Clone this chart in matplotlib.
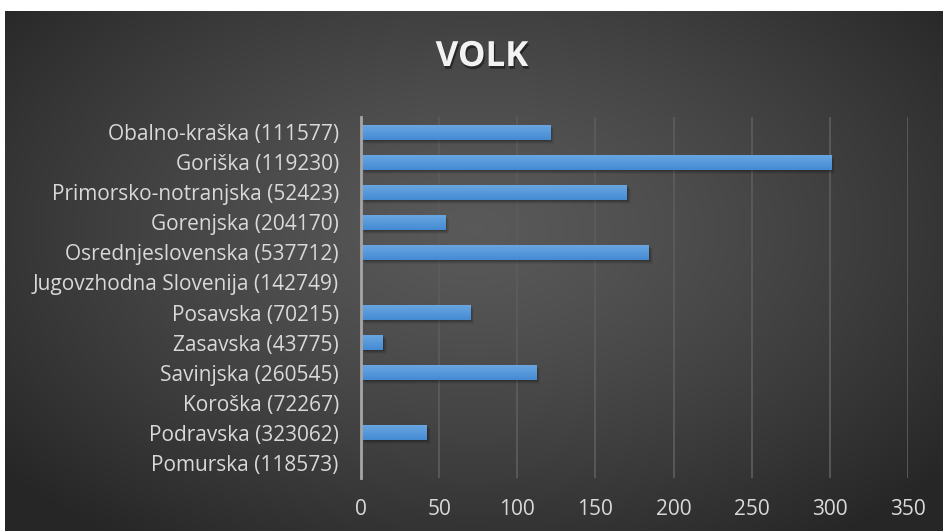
import numpy as np
import matplotlib
matplotlib.use("Agg")
import matplotlib.pyplot as plt
import matplotlib.patheffects as pe
import matplotlib.transforms as mtransforms

plt.rcParams['font.family'] = ['Open Sans', 'DejaVu Sans']

# Regions with population in brackets, top to bottom
regions = [
    "Obalno-kraška (111577)",
    "Goriška (119230)",
    "Primorsko-notranjska (52423)",
    "Gorenjska (204170)",
    "Osrednjeslovenska (537712)",
    "Jugovzhodna Slovenija (142749)",
    "Posavska (70215)",
    "Zasavska (43775)",
    "Savinjska (260545)",
    "Koroška (72267)",
    "Podravska (323062)",
    "Pomurska (118573)",
]
counts = [121, 301, 170, 54, 184, 0, 70, 14, 112, 0, 42, 0]
xticks = [0, 50, 100, 150, 200, 250, 300, 350]

W, H = 943, 531
fig = plt.figure(figsize=(W / 100, H / 100), dpi=100)
fig.patch.set_facecolor("white")

# dark radial-gradient backdrop
bg = fig.add_axes([5 / W, 0, 1 - 5 / W, 1 - 11 / H])
bg.set_axis_off()
yy, xx = np.mgrid[0:1:300j, 0:1:500j]
r = np.sqrt(((xx - 0.5) / 0.8) ** 2 + ((yy - 0.42) / 0.9) ** 2)
shade = np.clip(0.35 - 0.26 * r ** 1.3, 0.15, 0.35)
bg.imshow(np.dstack([shade] * 3), extent=[0, 1, 0, 1], aspect="auto",
          interpolation="bicubic")
bg.set_xlim(0, 1)
bg.set_ylim(0, 1)

ax = fig.add_axes([361 / W, 1 - 478 / H, (908 - 361) / W, (478 - 117) / H])
ax.patch.set_alpha(0)

y = np.arange(len(regions))

# soft drop shadow under each bar
for k, a in [(4, 0.06), (3, 0.08), (2, 0.10), (1, 0.12)]:
    ax.barh(y, counts, height=0.5, color="black", alpha=a, zorder=2,
            transform=ax.transData + mtransforms.ScaledTranslation(
                k / 100, -k / 100, fig.dpi_scale_trans))

bars = ax.barh(y, counts, height=0.5, color="#5b9bd5", zorder=3)

# vertical gradient on each bar
grad = np.linspace(0, 1, 64).reshape(-1, 1)
top = np.array([0x6c, 0xa8, 0xe2]) / 255
bot = np.array([0x44, 0x8b, 0xd3]) / 255
grad_rgb = top[None, None, :] * (1 - grad[..., None]) + bot[None, None, :] * grad[..., None]
for b, v, yi in zip(bars, counts, y):
    if v <= 0:
        continue
    im = ax.imshow(grad_rgb, extent=[0, v, yi + 0.25, yi - 0.25], aspect="auto",
                   zorder=4, interpolation="bilinear")
    im.set_clip_path(b)

ax.set_xlim(0, 350)
ax.set_ylim(len(regions) - 0.5, -0.5)
ax.set_xticks(xticks)
ax.set_yticks(y)
ax.set_yticklabels(regions)
ax.set_aspect("auto")

ax.grid(axis="x", color="#5b5b5b", lw=1.3, zorder=0)
for s in ["top", "right", "bottom"]:
    ax.spines[s].set_visible(False)
ax.spines["left"].set_color("#a6a6a6")
ax.spines["left"].set_linewidth(2)
ax.spines["left"].set_zorder(5)
ax.tick_params(axis="both", length=0, colors="#d9d9d9", labelsize=15)
ax.tick_params(axis="y", pad=16)
ax.tick_params(axis="x", pad=15)

fig.text(482 / W, 1 - 57 / H, "VOLK", ha="center", va="center", color="#f2f2f2",
         fontsize=25, fontweight="bold",
         path_effects=[pe.withSimplePatchShadow(offset=(1, -2), shadow_rgbFace="black", alpha=0.45)])

fig.savefig("out.png", dpi=100, facecolor=fig.get_facecolor())
